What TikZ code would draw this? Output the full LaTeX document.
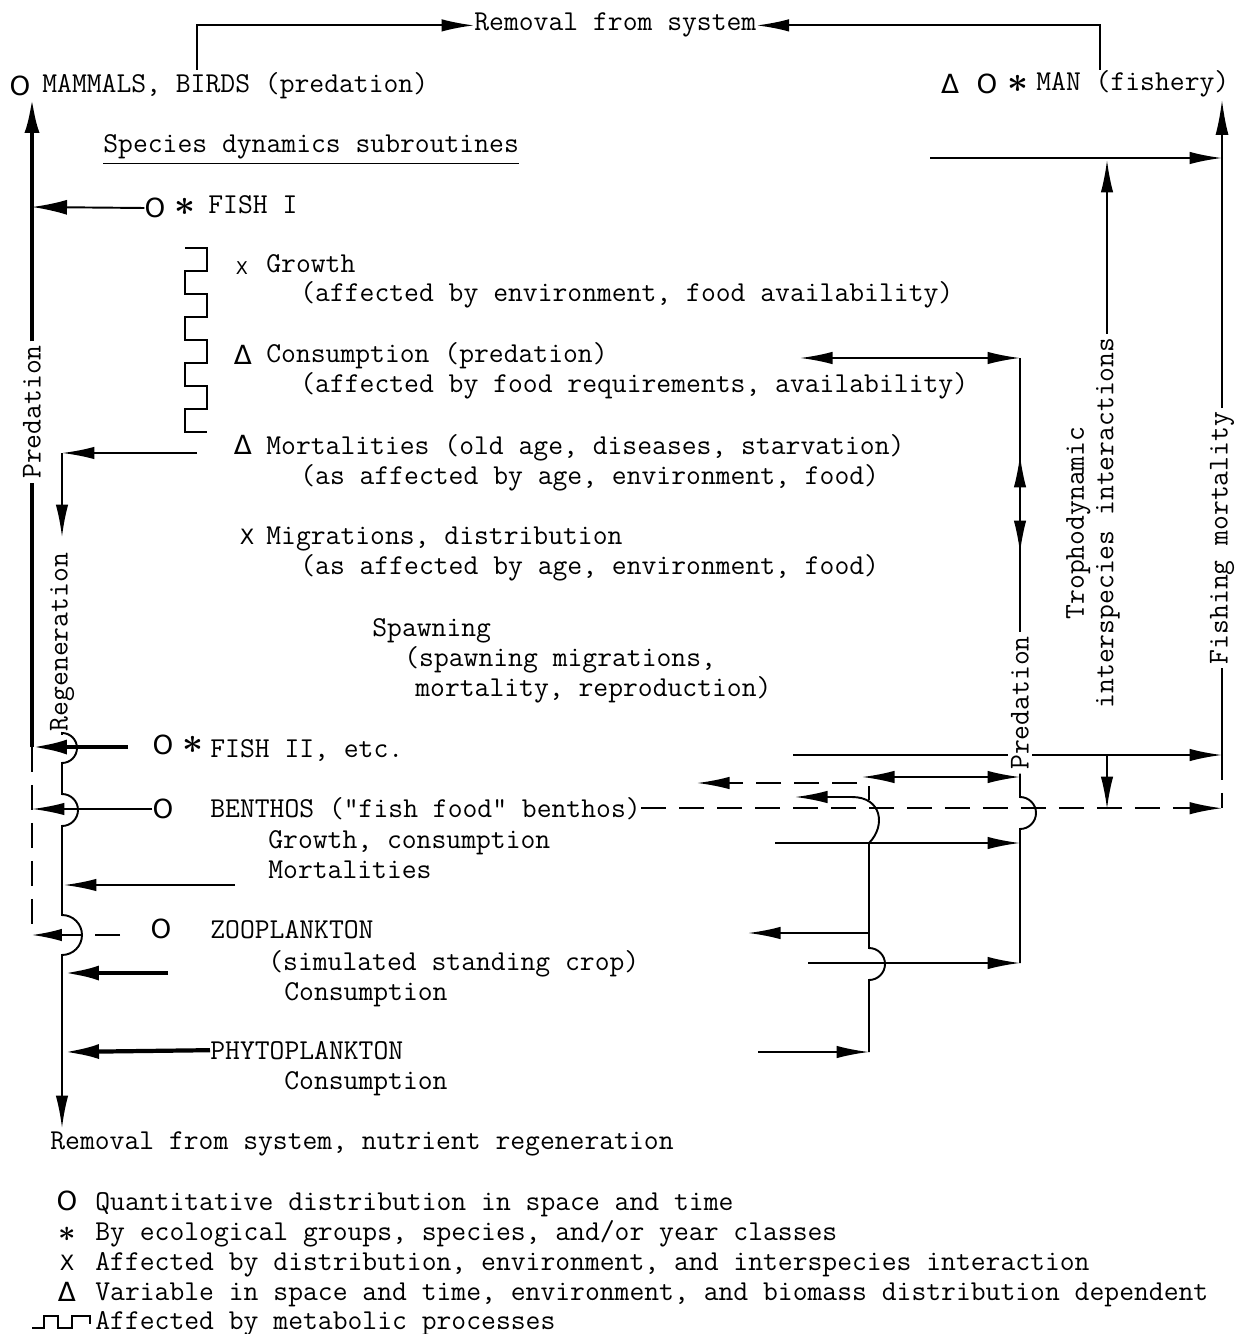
\documentclass[tikz,border=0pt]{standalone}
\usepackage{amsmath}
\usepackage{fontspec}
\usepackage{tikz}
\usetikzlibrary{positioning,arrows.meta}
\newfontfamily\symfont{DejaVu Sans}
\newcommand{\tw}{\ttfamily\fontsize{16.4}{16.8}\selectfont}
\newcommand{\bigsym}{\symfont\fontsize{15}{17}\selectfont}
\newcommand{\midsym}{\symfont\fontsize{12}{14}\selectfont}
\newcommand{\smallsym}{\symfont\fontsize{10}{12}\selectfont}
\newcommand{\astsym}{\fontsize{22}{24}\selectfont$\boldsymbol{\ast}$}
\newcommand{\lgastsym}{\fontsize{16}{18}\selectfont$\boldsymbol{\ast}$}

\begin{document}
\begin{tikzpicture}[x=0.02cm, y=-0.02cm,
  txt/.style={font=\tw, inner sep=0pt, anchor=base west},
  sym/.style={font=\bigsym, inner sep=0pt},
  msym/.style={font=\midsym, inner sep=0pt},
  xsym/.style={font=\smallsym, inner sep=0pt},
  asym/.style={inner sep=0pt},
  vtxt/.style={font=\tw, inner sep=2pt, rotate=90, fill=white},
  ln/.style={line width=1.1pt},
  fat/.style={line width=2.4pt},
  arr/.style={ln, -{Latex[length=6.5mm, width=2.5mm]}},
  fatarr/.style={fat, -{Latex[length=7mm, width=3mm]}},
  dbl/.style={ln, {Latex[length=6.5mm, width=2.5mm]}-{Latex[length=6.5mm, width=2.5mm]}},
  dsh/.style={ln, dash pattern=on 5mm off 2.6mm},
  wave/.style={line width=1pt}]
\useasboundingbox (0,0) rectangle (1237,1334);

% ---- TOP: removal from system ----
\node[txt] (rmvTop) at (474,31) {Removal from system};
\node[sym] (oMam) at (20,86) {O};
\node[txt] (mammals) at (42,93) {MAMMALS, BIRDS (predation)};
\node[sym] (tMan) at (950,84) {Δ};
\node[sym] (oMan) at (987,84) {O};
\node[asym] (aMan) at (1018,84) {\astsym};
\node[txt] (man) at (1036,91) {MAN (fishery)};
\coordinate (mamUp) at (197,70);
\coordinate (manUp) at (1100,70);
\draw[arr] (mamUp) |- (rmvTop.west);
\draw[arr] (manUp) |- (rmvTop.east);

% ---- species dynamics subroutines ----
\node[txt] (sds) at (103,153) {\underline{Species dynamics subroutines}};
\node[sym] (oF1) at (155,208) {O};
\node[asym] (aF1) at (185,207) {\astsym};
\node[txt] (fish1) at (208,214) {FISH I};
\node[xsym] (xGro) at (242,268) {X};
\node[txt] (growth) at (266,273) {Growth};
\node[txt] (growth2) at (300,302) {(affected by environment, food availability)};
\node[sym] (tCon) at (243,355) {Δ};
\node[txt] (cons) at (266,363) {Consumption (predation)};
\node[txt] (cons2) at (300,393) {(affected by food requirements, availability)};
\node[sym] (tMort) at (243,445) {Δ};
\node[txt] (mort) at (266,454) {Mortalities (old age, diseases, starvation)};
\node[txt] (mort2) at (300,484) {(as affected by age, environment, food)};
\node[msym] (xMig) at (247,537) {X};
\node[txt] (migr) at (266,544) {Migrations, distribution};
\node[txt] (migr2) at (300,574) {(as affected by age, environment, food)};
\node[txt] (spawn) at (372,636) {Spawning};
\node[txt] (spawn2) at (404,666) {(spawning migrations,};
\node[txt] (spawn3) at (415,696) {mortality, reproduction)};
% metabolic processes bracket
\draw[wave] (185,248) -- (207,248) -- (207,271) -- (185,271) -- (185,294)
  -- (207,294) -- (207,317) -- (185,317) -- (185,340) -- (207,340)
  -- (207,363) -- (185,363) -- (185,386) -- (207,386) -- (207,409)
  -- (185,409) -- (185,432) -- (207,432);

% ---- lower groups ----
\node[sym] (oF2) at (163,745) {O};
\node[asym] (aF2) at (193,745) {\astsym};
\node[txt] (fish2) at (210,757) {FISH II, etc.};
\node[sym] (oBen) at (163,809) {O};
\node[txt] (ben) at (210,817) {BENTHOS ("fish food" benthos)};
\node[txt] (ben2) at (268,848) {Growth, consumption};
\node[txt] (ben3) at (268,878) {Mortalities};
\node[sym] (oZoo) at (161,929) {O};
\node[txt] (zoo) at (210,938) {ZOOPLANKTON};
\node[txt] (zoo2) at (268,970) {(simulated standing crop)};
\node[txt] (zoo3) at (284,1000) {Consumption};
\node[txt] (phy) at (210,1059) {PHYTOPLANKTON};
\node[txt] (phy2) at (284,1089) {Consumption};
\node[txt] (rmvBot) at (50,1149) {Removal from system, nutrient regeneration};

% ---- LEFT: predation and regeneration ----
\node[vtxt] (predL) at (32,412) {Predation};
\node[vtxt] (regen) at (62,642) {Regeneration};
\coordinate (mamL) at (32,98);
\coordinate (f1L) at (32,207);
\coordinate (f2L) at (32,747);
\coordinate (f2In) at (128,747);
\coordinate (zooL) at (32,935);
\coordinate (zooIn) at (120,935);
\draw[fat] (f2L) -- (predL.west);
\draw[fat, -{Latex[length=7mm, width=3mm]}] (predL.east) -- (mamL);
\draw[ln, -{Latex[length=7mm, width=3mm]}] (oF1.west) -- (f1L);
\draw[fatarr] (f2In) -- (f2L);
\draw[dsh] (f2L) -- (zooL);
\draw[dsh, -{Latex[length=6mm, width=2.5mm]}] (zooIn) -- (zooL);
\draw[arr] (oBen.west) -- (oBen.west -| f2L);
% regeneration line
\coordinate (mortR) at (197,453);
\coordinate (mortL) at (62,453);
\coordinate (regTip) at (62,537);
\coordinate (remTip) at (62,1128);
\draw[arr] (mortR) -- (mortL);
\draw[arr] (mortL) -- (regTip);
\draw[arr] (regen.west) -- (62,733) arc[start angle=90, end angle=-90, radius=0.3cm]
  -- (62,794) arc[start angle=90, end angle=-90, radius=0.32cm]
  -- (62,915) arc[start angle=90, end angle=-90, radius=0.4cm] -- (remTip);
\draw[arr] (235,885) -- (64,885);
\draw[fatarr] (168,973) -- (64,973);
\draw[fatarr] (phy.west) -- (64,1052);

% ---- RIGHT: fishery and trophodynamics ----
\coordinate (tropIn) at (930,158);
\coordinate (fmMid) at (1222,158);
\coordinate (fmTip) at (1222,100);
\coordinate (trTip) at (1107,160);
\coordinate (f2R) at (793,755);
\coordinate (f2End) at (1222,755);
\draw[arr] (f2R) -- (f2End);
\node[vtxt, align=center] (troph) at (1093,523) {Trophodynamic\\interspecies interactions};
\node[vtxt] (fmort) at (1222,538) {Fishing mortality};
\node[vtxt] (predR) at (1020,703) {Predation};
\draw[arr] (tropIn) -- (fmMid);
\draw[arr] (troph.east -| trTip) -- (trTip);
\draw[ln, -{Latex[length=7mm, width=2.6mm]}] (fmort.east) -- (fmTip);
\draw[ln] (f2End) -- (fmort.west);
\draw[arr] (1107,755) -- (1107,809);
\draw[dsh] (f2End) -- (ben.east -| f2End);
\draw[dsh, -{Latex[length=6.5mm, width=2.5mm]}] (ben.east) -- (ben.east -| f2End);
% predation links between groups
\coordinate (consL) at (800,358);
\coordinate (consR) at (1020,358);
\draw[dbl] (consL) -- (consR);
\draw[ln] (consR) -- (predR.east);
\draw[arr] (1020,492) -- (1020,455);
\draw[arr] (1020,515) -- (1020,553);
\draw[ln] (predR.west) -- (1020,797) arc[start angle=90, end angle=-90, radius=0.32cm] -- (1020,963);
\draw[dbl] (862,777) -- (1020,777);
\draw[arr] (775,843) -- (1020,843);
\draw[arr] (808,963) -- (1020,963);
% food chain line
\draw[arr] (758,1052) -- (869,1052);
\draw[ln] (869,1052) -- (869,980) arc[start angle=-90, end angle=90, radius=0.32cm] -- (869,843);
\draw[arr] (869,843) .. controls (886,826) and (882,797) .. (852,797) -- (795,797);
\draw[ln] (869,786) -- (869,800);
\draw[arr] (869,933) -- (748,933);
\draw[dsh, -{Latex[length=6.5mm, width=2.5mm]}] (857,783) -- (697,783);

% ---- legend ----
\node[sym] (lgO) at (67,1201) {O};
\node[txt] (lgOt) at (95,1210) {Quantitative distribution in space and time};
\node[asym] (lgA) at (67,1234) {\lgastsym};
\node[txt] (lgAt) at (95,1240) {By ecological groups, species, and/or year classes};
\node[msym] (lgX) at (67,1263) {X};
\node[txt] (lgXt) at (95,1270) {Affected by distribution, environment, and interspecies interaction};
\node[sym] (lgT) at (67,1292) {Δ};
\node[txt] (lgTt) at (95,1300) {Variable in space and time, environment, and biomass distribution dependent};
\draw[wave] (32,1328) -- (44,1328) -- (44,1316) -- (58,1316) -- (58,1328)
  -- (72,1328) -- (72,1316) -- (90,1316) -- (90,1324);
\node[txt] (lgWt) at (95,1329) {Affected by metabolic processes};
\end{tikzpicture}
\end{document}
